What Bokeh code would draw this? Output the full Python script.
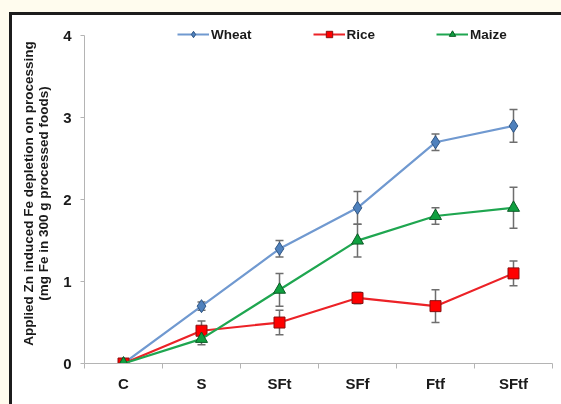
from bokeh.plotting import figure
from bokeh.models import (FactorRange, Range1d, LinearAxis, CategoricalAxis, FixedTicker,
                          Whisker, ColumnDataSource, Legend, LegendItem, TeeHead)
from bokeh.embed import file_html
from bokeh.resources import INLINE

cats = ["C", "S", "SFt", "SFf", "Ftf", "SFtf"]
wheat = [0, 0.7, 1.4, 1.9, 2.7, 2.9]
wheat_err = [0, 0.05, 0.1, 0.2, 0.1, 0.2]
rice = [0, 0.4, 0.5, 0.8, 0.7, 1.1]
rice_err = [0, 0.12, 0.15, 0.07, 0.2, 0.15]
maize = [0, 0.3, 0.9, 1.5, 1.8, 1.9]
maize_err = [0, 0.07, 0.2, 0.2, 0.1, 0.25]
y_ticks = [0, 1, 2, 3, 4]

FONT = "Liberation Sans"
AX = "#b4b4b4"
TXT = "#1a1a1a"

p = figure(x_range=FactorRange(factors=cats, range_padding=0), y_range=Range1d(0, 4.15),
           width=548, height=388, output_backend="svg", toolbar_location=None,
           x_axis_location=None, min_border_left=72, min_border_right=8,
           min_border_top=8, min_border_bottom=40)
p.outline_line_color = None
p.background_fill_color = "white"
p.border_fill_color = "white"
p.grid.visible = False

# tick marks at the category boundaries (synthetic coordinates 0..n)
edge_axis = LinearAxis(ticker=FixedTicker(ticks=list(range(len(cats) + 1))),
                       major_label_text_font_size="1px", major_label_text_color=None,
                       major_tick_in=0, major_tick_out=5,
                       minor_tick_line_color=None, axis_line_color=AX, major_tick_line_color=AX,
                       major_label_standoff=0)
p.add_layout(edge_axis, "below")
cat_axis = CategoricalAxis(axis_line_color=None, major_tick_line_color=None,
                           major_label_text_font=FONT, major_label_text_font_style="bold",
                           major_label_text_font_size="15px", major_label_text_color=TXT,
                           major_label_standoff=0)
p.add_layout(cat_axis, "below")

ya = p.yaxis[0]
ya.ticker = FixedTicker(ticks=y_ticks)
ya.bounds = (0, 4)
ya.axis_line_color = AX
ya.major_tick_line_color = AX
ya.major_tick_in = 0
ya.major_tick_out = 4
ya.minor_tick_line_color = None
ya.major_label_text_font = FONT
ya.major_label_text_font_style = "bold"
ya.major_label_text_font_size = "15px"
ya.major_label_text_color = TXT
ya.major_label_standoff = 9
ya.axis_label = "Applied Zn induced Fe depletion on processing\n(mg Fe in 300 g processed foods)"
ya.axis_label_text_font = FONT
ya.axis_label_text_font_style = "bold"
ya.axis_label_text_font_size = "13.5px"
ya.axis_label_text_color = TXT
ya.axis_label_standoff = 9
ya.axis_label_text_line_height = 1.0

series = [
    ("Wheat", wheat, wheat_err, "#7099d0", "#4f81bd", "#2f5583", "diamond", 13),
    ("Rice", rice, rice_err, "#ec2227", "#ff0000", "#8a1010", "square", 11),
    ("Maize", maize, maize_err, "#1fa650", "#10a040", "#0b5a25", "triangle", 12),
]

items = []
for name, vals, errs, lc, fc, oc, marker, size in series:
    xs = [c for c, e in zip(cats, errs) if e > 0]
    up = [v + e for v, e in zip(vals, errs) if e > 0]
    lo = [v - e for v, e in zip(vals, errs) if e > 0]
    wsrc = ColumnDataSource(dict(x=xs, upper=up, lower=lo))
    w = Whisker(source=wsrc, base="x", upper="upper", lower="lower", dimension="height",
                line_color="#6e6e6e", line_width=1.5, level="underlay",
                upper_head=TeeHead(size=8, line_color="#6e6e6e", line_width=1.5),
                lower_head=TeeHead(size=8, line_color="#6e6e6e", line_width=1.5))
    p.add_layout(w)

for name, vals, errs, lc, fc, oc, marker, size in series:
    src = ColumnDataSource(dict(x=cats, y=vals))
    lr = p.line("x", "y", source=src, line_color=lc, line_width=2.2)
    sr = p.scatter("x", "y", source=src, marker=marker, size=size, fill_color=fc,
                   line_color=oc, line_width=1)
    items.append(LegendItem(label=name, renderers=[lr, sr]))

legend = Legend(items=items, orientation="horizontal", location=(93, 321), spacing=61,
                glyph_width=32, glyph_height=16, label_standoff=2, padding=0, margin=0,
                border_line_color=None, background_fill_alpha=0,
                label_text_font=FONT, label_text_font_style="bold",
                label_text_font_size="13.5px", label_text_color=TXT,
                label_height=16)
p.add_layout(legend)

p.styles = {"margin-left": "12px", "margin-top": "15px"}

css = ("<style>html{background:#fffcee;overflow:hidden;}"
       "body{background:transparent;overflow:hidden;}"
       "body::before{content:'';position:fixed;left:9px;top:12px;right:0;bottom:0;"
       "border-left:3px solid #1c1c1c;border-top:3px solid #1c1c1c;background:#ffffff;z-index:-1;}"
       "</style>")
html = file_html(p, INLINE, title="Fe depletion")
html = html.replace("</head>", css + "</head>", 1)
open("out.html", "w").write(html)
